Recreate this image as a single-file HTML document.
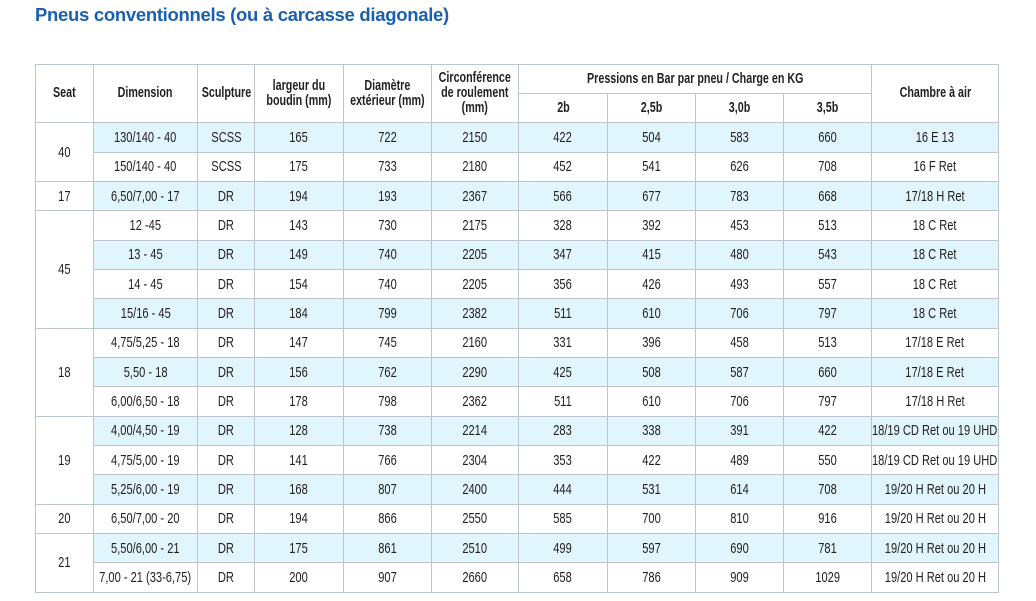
<!DOCTYPE html>
<html><head><meta charset="utf-8"><style>
body{margin:0;width:1036px;height:601px;background:#fff;font-family:"Liberation Sans",sans-serif;color:#222;overflow:hidden;position:relative}
h1{position:absolute;left:35px;top:4px;margin:0;font-family:"Liberation Sans",sans-serif;font-weight:bold;font-size:18.5px;color:#1b5fae;letter-spacing:-0.3px}
table{position:absolute;left:35px;top:64px;border-collapse:collapse;table-layout:fixed;width:963px}
td,th{border:1.5px solid #bcc6cc;text-align:center;padding:0;font-size:15px;height:29.33px;box-sizing:border-box;white-space:nowrap;overflow:visible}
td span,th span{display:inline-block;margin:0 -40px;transform:scaleX(.74);transform-origin:center}
th{font-weight:bold;font-size:14.5px;line-height:15px}
tr.b td{background:#e1f5fc}
tr.b td.s{background:#fff}
</style></head><body>
<h1>Pneus conventionnels (ou à carcasse diagonale)</h1>
<table>
<colgroup><col style="width:58px"><col style="width:104px"><col style="width:57px"><col style="width:89px"><col style="width:88px"><col style="width:87px"><col style="width:89px"><col style="width:88px"><col style="width:88px"><col style="width:88px"><col style="width:127px"></colgroup>
<tr style="height:29px"><th rowspan="2" style="height:58px"><span>Seat</span></th><th rowspan="2"><span>Dimension</span></th><th rowspan="2"><span>Sculpture</span></th><th rowspan="2"><span>largeur du<br>boudin (mm)</span></th><th rowspan="2"><span>Diamètre<br>extérieur (mm)</span></th><th rowspan="2"><span>Circonférence<br>de roulement<br>(mm)</span></th><th colspan="4" style="height:29px"><span>Pressions en Bar par pneu / Charge en KG</span></th><th rowspan="2"><span>Chambre à air</span></th></tr>
<tr style="height:29px"><th style="height:29px"><span>2b</span></th><th><span>2,5b</span></th><th><span>3,0b</span></th><th><span>3,5b</span></th></tr>
<tr class="b"><td class="s" rowspan="2"><span>40</span></td><td><span>130/140 - 40</span></td><td><span>SCSS</span></td><td><span>165</span></td><td><span>722</span></td><td><span>2150</span></td><td><span>422</span></td><td><span>504</span></td><td><span>583</span></td><td><span>660</span></td><td><span>16 E 13</span></td></tr>
<tr><td><span>150/140 - 40</span></td><td><span>SCSS</span></td><td><span>175</span></td><td><span>733</span></td><td><span>2180</span></td><td><span>452</span></td><td><span>541</span></td><td><span>626</span></td><td><span>708</span></td><td><span>16 F Ret</span></td></tr>
<tr class="b"><td class="s"><span>17</span></td><td><span>6,50/7,00 - 17</span></td><td><span>DR</span></td><td><span>194</span></td><td><span>193</span></td><td><span>2367</span></td><td><span>566</span></td><td><span>677</span></td><td><span>783</span></td><td><span>668</span></td><td><span>17/18 H Ret</span></td></tr>
<tr><td class="s" rowspan="4"><span>45</span></td><td><span>12 -45</span></td><td><span>DR</span></td><td><span>143</span></td><td><span>730</span></td><td><span>2175</span></td><td><span>328</span></td><td><span>392</span></td><td><span>453</span></td><td><span>513</span></td><td><span>18 C Ret</span></td></tr>
<tr class="b"><td><span>13 - 45</span></td><td><span>DR</span></td><td><span>149</span></td><td><span>740</span></td><td><span>2205</span></td><td><span>347</span></td><td><span>415</span></td><td><span>480</span></td><td><span>543</span></td><td><span>18 C Ret</span></td></tr>
<tr><td><span>14 - 45</span></td><td><span>DR</span></td><td><span>154</span></td><td><span>740</span></td><td><span>2205</span></td><td><span>356</span></td><td><span>426</span></td><td><span>493</span></td><td><span>557</span></td><td><span>18 C Ret</span></td></tr>
<tr class="b"><td><span>15/16 - 45</span></td><td><span>DR</span></td><td><span>184</span></td><td><span>799</span></td><td><span>2382</span></td><td><span>511</span></td><td><span>610</span></td><td><span>706</span></td><td><span>797</span></td><td><span>18 C Ret</span></td></tr>
<tr><td class="s" rowspan="3"><span>18</span></td><td><span>4,75/5,25 - 18</span></td><td><span>DR</span></td><td><span>147</span></td><td><span>745</span></td><td><span>2160</span></td><td><span>331</span></td><td><span>396</span></td><td><span>458</span></td><td><span>513</span></td><td><span>17/18 E Ret</span></td></tr>
<tr class="b"><td><span>5,50 - 18</span></td><td><span>DR</span></td><td><span>156</span></td><td><span>762</span></td><td><span>2290</span></td><td><span>425</span></td><td><span>508</span></td><td><span>587</span></td><td><span>660</span></td><td><span>17/18 E Ret</span></td></tr>
<tr><td><span>6,00/6,50 - 18</span></td><td><span>DR</span></td><td><span>178</span></td><td><span>798</span></td><td><span>2362</span></td><td><span>511</span></td><td><span>610</span></td><td><span>706</span></td><td><span>797</span></td><td><span>17/18 H Ret</span></td></tr>
<tr class="b"><td class="s" rowspan="3"><span>19</span></td><td><span>4,00/4,50 - 19</span></td><td><span>DR</span></td><td><span>128</span></td><td><span>738</span></td><td><span>2214</span></td><td><span>283</span></td><td><span>338</span></td><td><span>391</span></td><td><span>422</span></td><td><span>18/19 CD Ret ou 19 UHD</span></td></tr>
<tr><td><span>4,75/5,00 - 19</span></td><td><span>DR</span></td><td><span>141</span></td><td><span>766</span></td><td><span>2304</span></td><td><span>353</span></td><td><span>422</span></td><td><span>489</span></td><td><span>550</span></td><td><span>18/19 CD Ret ou 19 UHD</span></td></tr>
<tr class="b"><td><span>5,25/6,00 - 19</span></td><td><span>DR</span></td><td><span>168</span></td><td><span>807</span></td><td><span>2400</span></td><td><span>444</span></td><td><span>531</span></td><td><span>614</span></td><td><span>708</span></td><td><span>19/20 H Ret ou 20 H</span></td></tr>
<tr><td class="s"><span>20</span></td><td><span>6,50/7,00 - 20</span></td><td><span>DR</span></td><td><span>194</span></td><td><span>866</span></td><td><span>2550</span></td><td><span>585</span></td><td><span>700</span></td><td><span>810</span></td><td><span>916</span></td><td><span>19/20 H Ret ou 20 H</span></td></tr>
<tr class="b"><td class="s" rowspan="2"><span>21</span></td><td><span>5,50/6,00 - 21</span></td><td><span>DR</span></td><td><span>175</span></td><td><span>861</span></td><td><span>2510</span></td><td><span>499</span></td><td><span>597</span></td><td><span>690</span></td><td><span>781</span></td><td><span>19/20 H Ret ou 20 H</span></td></tr>
<tr><td><span>7,00 - 21 (33-6,75)</span></td><td><span>DR</span></td><td><span>200</span></td><td><span>907</span></td><td><span>2660</span></td><td><span>658</span></td><td><span>786</span></td><td><span>909</span></td><td><span>1029</span></td><td><span>19/20 H Ret ou 20 H</span></td></tr>
</table>
</body></html>
